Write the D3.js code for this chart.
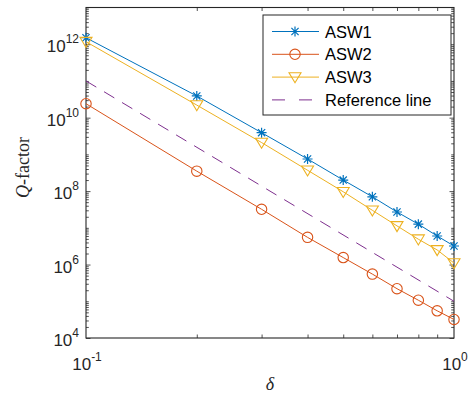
<!DOCTYPE html>
<html>
<head>
<meta charset="utf-8">
<script src="https://cdn.jsdelivr.net/npm/d3@7"></script>
<style>
  body { margin: 0; background: #fff; }
  svg { display: block; font-family: "Liberation Sans", Arial, sans-serif; }
  .tick line { stroke: #262626; }
  .domain { stroke: #262626; }
</style>
</head>
<body>
<svg class="chart" width="471" height="395"></svg>
<script>
const delta = [0.1, 0.2, 0.3, 0.4, 0.5, 0.6, 0.7, 0.8, 0.9, 1.0];
const asw1 = [1.5e12, 3.9e10, 3.9e9, 7.5e8, 2.0e8, 7.0e7, 2.7e7, 1.26e7, 6.0e6, 3.2e6];
const asw2 = [2.4e10, 3.5e8, 3.2e7, 5.5e6, 1.55e6, 5.5e5, 2.2e5, 1.07e5, 5.5e4, 3.2e4];
const asw3 = [1.17e12, 2.2e10, 2.1e9, 3.7e8, 9.6e7, 3.0e7, 1.13e7, 4.9e6, 2.5e6, 1.1e6];
const refX = [0.1, 1.0];
const refY = [1e11, 1e5];

const yMajor = [1e4, 1e6, 1e8, 1e10, 1e12];
const xMajor = [0.1, 1];

const svg = d3.select('.chart');
const margin = { left: 86, top: 7.5, right: 17, bottom: 57 };
const width = +svg.attr('width') - margin.left - margin.right;
const height = +svg.attr('height') - margin.top - margin.bottom;

const x = d3.scaleLog().domain([0.1, 1]).range([0, width]);
const y = d3.scaleLog().domain([1e4, 1e13]).range([height, 0]);

// minor ticks
const yMinor = [];
for (let e = 4; e < 13; e++) {
  for (let m = 1; m < 10; m++) {
    const v = m * Math.pow(10, e);
    if (!yMajor.includes(v) && v > 1e4) yMinor.push(v);
  }
}
yMinor.push(1e13);
const xMinor = [0.2, 0.3, 0.4, 0.5, 0.6, 0.7, 0.8, 0.9];

const g = svg.append('g')
  .attr('transform', `translate(${margin.left},${margin.top})`);

const ink = '#262626';

// ticks on all four sides
const addAxis = (axisFn, scale, values, size, transform) => {
  const a = g.append('g')
    .attr('transform', transform)
    .call(axisFn(scale).tickValues(values).tickSize(size).tickFormat(''));
  a.select('.domain').remove();
  a.selectAll('.tick line').attr('stroke', ink).attr('stroke-width', 0.8);
  return a;
};
addAxis(d3.axisLeft, y, yMinor, -2.8, 'translate(0,0)');
addAxis(d3.axisRight, y, yMinor, -2.8, `translate(${width},0)`);
addAxis(d3.axisLeft, y, yMajor, -4.5, 'translate(0,0)');
addAxis(d3.axisRight, y, yMajor, -4.5, `translate(${width},0)`);
addAxis(d3.axisBottom, x, xMinor, -3.5, `translate(0,${height})`);
addAxis(d3.axisTop, x, xMinor, -3.5, 'translate(0,0)');

// box
g.append('rect')
  .attr('width', width).attr('height', height)
  .attr('fill', 'none').attr('stroke', ink).attr('stroke-width', 1.1);

// tick labels with superscripts
const expOf = v => Math.round(Math.log10(v));
const yLab = g.append('g').selectAll('text').data(yMajor).enter().append('text')
  .attr('x', -7)
  .attr('y', d => y(d) + 8)
  .attr('text-anchor', 'end')
  .attr('fill', ink)
  .attr('font-size', 17);
yLab.append('tspan').text('10');
yLab.append('tspan').attr('dy', -9).attr('font-size', 12).text(d => expOf(d));

const xLab = g.append('g').selectAll('text').data(xMajor).enter().append('text')
  .attr('x', d => x(d) + 1)
  .attr('y', height + 32)
  .attr('text-anchor', 'middle')
  .attr('fill', ink)
  .attr('font-size', 17);
xLab.append('tspan').text('10');
xLab.append('tspan').attr('dy', -9).attr('font-size', 12).text(d => expOf(d) < 0 ? '-' + (-expOf(d)) : expOf(d));

// axis titles
svg.append('text')
  .attr('transform', 'translate(28.5,167.5) rotate(-90)')
  .attr('text-anchor', 'middle')
  .attr('font-family', '"Liberation Serif", "Times New Roman", serif')
  .attr('font-size', 18)
  .attr('fill', ink)
  .call(t => {
    t.append('tspan').attr('font-style', 'italic').text('Q');
    t.append('tspan').text('-factor');
  });

svg.append('text')
  .attr('x', margin.left + width / 2)
  .attr('y', 390)
  .attr('text-anchor', 'middle')
  .attr('font-family', '"Liberation Serif", "Times New Roman", serif')
  .attr('font-style', 'italic')
  .attr('font-size', 18)
  .attr('fill', ink)
  .text('δ');

// series
const colors = { asw1: '#0072BD', asw2: '#D95319', asw3: '#EDB120', ref: '#7E2F8E' };
const line = d3.line().x(d => x(d[0])).y(d => y(d[1]));

const drawMarker = (sel, type, color) => {
  if (type === 'star') {
    sel.append('path')
      .attr('d', 'M-5,0H5M0,-5V5M-3.6,-3.6L3.6,3.6M-3.6,3.6L3.6,-3.6')
      .attr('stroke', color).attr('stroke-width', 1.2).attr('fill', 'none');
  } else if (type === 'circle') {
    sel.append('circle').attr('r', 5.2)
      .attr('stroke', color).attr('stroke-width', 1.1).attr('fill', 'none');
  } else if (type === 'tri') {
    sel.append('path')
      .attr('d', 'M-6,-4.3L6,-4.3L0,5.7Z')
      .attr('stroke', color).attr('stroke-width', 1.1).attr('fill', 'none');
  }
};

const series = [
  { name: 'ASW1', values: asw1, color: colors.asw1, marker: 'star' },
  { name: 'ASW2', values: asw2, color: colors.asw2, marker: 'circle' },
  { name: 'ASW3', values: asw3, color: colors.asw3, marker: 'tri' }
];

series.forEach(s => {
  const pts = delta.map((d, i) => [d, s.values[i]]);
  g.append('path')
    .datum(pts)
    .attr('d', line)
    .attr('fill', 'none')
    .attr('stroke', s.color)
    .attr('stroke-width', 1);
  g.append('g').selectAll('g').data(pts).enter().append('g')
    .attr('transform', d => `translate(${x(d[0])},${y(d[1])})`)
    .each(function () { drawMarker(d3.select(this), s.marker, s.color); });
});

g.append('path')
  .datum(refX.map((d, i) => [d, refY[i]]))
  .attr('d', line)
  .attr('fill', 'none')
  .attr('stroke', colors.ref)
  .attr('stroke-width', 1)
  .attr('stroke-dasharray', '12,9');

// legend
const legendItems = [
  ...series,
  { name: 'Reference line', color: colors.ref, marker: null, dash: true }
];
const lg = svg.append('g').attr('transform', 'translate(263,15)');
lg.append('rect')
  .attr('width', 188).attr('height', 100)
  .attr('fill', '#fff').attr('stroke', ink).attr('stroke-width', 1);
legendItems.forEach((s, i) => {
  const row = lg.append('g').attr('transform', `translate(0,${16.5 + i * 22.8})`);
  row.append('line')
    .attr('x1', 9).attr('x2', 56)
    .attr('stroke', s.color).attr('stroke-width', 1)
    .attr('stroke-dasharray', s.dash ? '13,14' : null);
  if (s.marker) {
    const m = row.append('g').attr('transform', 'translate(32,0)');
    drawMarker(m, s.marker, s.color);
  }
  row.append('text')
    .attr('x', 62).attr('y', 6)
    .attr('font-size', 16.5)
    .attr('fill', '#000')
    .text(s.name);
});
</script>
</body>
</html>
